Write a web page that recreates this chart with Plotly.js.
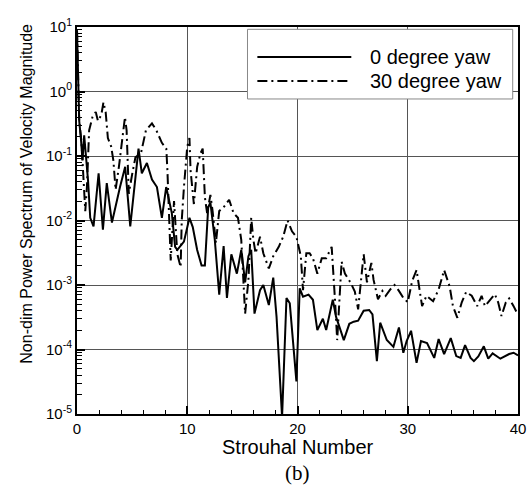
<!DOCTYPE html>
<html>
<head>
<meta charset="utf-8">
<script src="https://cdn.plot.ly/plotly-3.0.1.min.js"></script>
<style>html,body{margin:0;padding:0;background:#fff;}#chart{width:531px;height:491px;}</style>
</head>
<body>
<div id="chart"></div>
<script>
// Series names
var seriesNames = ['0 degree yaw', '30 degree yaw'];

// 0 degree yaw: Strouhal number and power spectrum
var st0 = [0, 0.1, 0.2, 0.35, 0.5, 0.65, 0.8, 1.0, 1.2, 1.5, 1.96, 2.35, 2.7, 3.17, 3.9, 4.37, 4.83, 5.58, 5.88, 6.34, 6.8, 7.25, 7.7, 8.09, 8.6, 8.9, 9.1, 9.7, 10.2, 10.5, 10.9, 11.3, 11.6, 11.9, 12.1, 12.5, 12.9, 13.3, 13.6, 14.0, 14.5, 14.9, 15.25, 15.55, 15.8, 16.1, 16.6, 16.9, 17.4, 17.8, 18.1, 18.6, 19.0, 19.3, 19.9, 20.2, 20.5, 21.0, 21.4, 21.8, 22.3, 22.6, 23.2, 23.5, 23.9, 24.2, 24.7, 25.1, 25.5, 26.0, 26.5, 26.8, 27.2, 27.5, 28.1, 28.7, 29.2, 29.6, 29.9, 30.3, 30.8, 31.2, 31.75, 32.4, 32.8, 33.3, 33.9, 34.4, 34.8, 35.2, 35.7, 36.0, 36.4, 36.9, 37.3, 37.7, 38.4, 38.9, 39.2, 39.6, 40.0];
var psd0 = [8.9, 1.6, 0.35, 0.19, 0.085, 0.21, 0.11, 0.042, 0.011, 0.0081, 0.054, 0.0072, 0.038, 0.0093, 0.033, 0.068, 0.0081, 0.13, 0.054, 0.078, 0.043, 0.033, 0.011, 0.033, 0.013, 0.0039, 0.0035, 0.0047, 0.011, 0.0079, 0.0035, 0.002, 0.002, 0.016, 0.019, 0.005, 7.1e-4, 0.004, 6.3e-4, 0.003, 0.0015, 0.0035, 0.0011, 0.0028, 0.0035, 3.6e-4, 8.3e-4, 1.0e-3, 4.9e-4, 0.0013, 3.2e-4, 9e-6, 6.3e-4, 5.2e-4, 3.2e-5, 8.9e-4, 6.6e-4, 7.1e-4, 5.9e-4, 2.0e-4, 3.0e-4, 2.0e-4, 5.9e-4, 3.2e-4, 2.0e-4, 1.4e-4, 2.5e-4, 2.7e-4, 2.8e-4, 4.0e-4, 4.1e-4, 3.5e-4, 6.6e-5, 2.6e-4, 1.4e-4, 1.1e-4, 2.2e-4, 8.9e-5, 1.35e-4, 1.95e-4, 6.2e-5, 1.35e-4, 1.26e-4, 7.4e-5, 1.45e-4, 8.5e-5, 1.5e-4, 7.9e-5, 7.4e-5, 1.17e-4, 7.4e-5, 6.6e-5, 7.8e-5, 1.12e-4, 7.2e-5, 8.7e-5, 7.2e-5, 8.1e-5, 8.5e-5, 8.9e-5, 8.1e-5];

// 30 degree yaw
var st30 = [0, 0.1, 0.2, 0.4, 0.6, 0.75, 0.9, 1.1, 1.4, 1.7, 1.9, 2.2, 2.4, 2.6, 2.8, 3.1, 3.3, 3.5, 3.8, 4.1, 4.35, 4.5, 4.7, 5.0, 5.3, 5.8, 6.25, 6.8, 7.2, 7.7, 8.1, 8.2, 8.4, 8.5, 8.8, 9.0, 9.1, 9.4, 9.5, 9.7, 10.0, 10.2, 10.3, 10.6, 10.9, 11.2, 11.4, 11.6, 11.8, 12.1, 12.3, 12.6, 12.9, 13.3, 13.8, 14.2, 14.6, 14.9, 15.25, 15.55, 15.8, 16.0, 16.2, 16.6, 16.9, 17.4, 17.8, 18.3, 18.7, 19.1, 19.5, 19.9, 20.3, 20.5, 20.8, 21.1, 21.4, 21.8, 22.2, 22.6, 23.1, 23.4, 23.6, 24.0, 24.3, 24.8, 25.2, 25.5, 25.9, 26.0, 26.3, 26.7, 26.9, 27.3, 27.7, 28.0, 28.4, 28.8, 29.2, 29.6, 30.0, 30.4, 30.8, 31.3, 31.7, 32.3, 32.8, 33.3, 33.8, 34.1, 34.5, 34.9, 35.3, 35.8, 36.3, 36.7, 37.0, 37.5, 37.9, 38.2, 38.5, 38.9, 39.2, 39.6, 39.9];
var psd30 = [8.9, 2.5, 0.35, 0.17, 0.042, 0.014, 0.033, 0.25, 0.4, 0.48, 0.35, 0.43, 0.68, 0.48, 0.19, 0.14, 0.085, 0.03, 0.068, 0.19, 0.4, 0.25, 0.026, 0.052, 0.095, 0.11, 0.25, 0.32, 0.25, 0.16, 0.13, 0.06, 0.0079, 0.0024, 0.02, 0.0055, 0.003, 0.0019, 0.01, 0.033, 0.14, 0.19, 0.06, 0.018, 0.068, 0.11, 0.13, 0.023, 0.013, 0.025, 0.014, 0.0045, 0.014, 0.016, 0.021, 0.013, 0.011, 0.005, 3.6e-4, 0.0012, 0.011, 0.005, 0.0031, 0.0056, 0.0031, 0.0018, 0.0028, 0.0039, 0.0056, 0.01, 0.0068, 0.0056, 0.0028, 8.3e-4, 0.0031, 0.0031, 0.0026, 0.0015, 0.0026, 0.0026, 0.0039, 5.9e-4, 1.4e-4, 0.0023, 0.0015, 0.0011, 7.9e-4, 4.2e-4, 0.0017, 0.003, 0.0011, 0.0022, 0.0012, 6.0e-4, 8.1e-4, 6.8e-4, 8.5e-4, 0.001, 8.1e-4, 6.3e-4, 5.4e-4, 0.00115, 0.0017, 4.7e-4, 6.8e-4, 5.6e-4, 8.5e-4, 0.0017, 9.5e-4, 4.7e-4, 3.1e-4, 5.4e-4, 7.8e-4, 6.8e-4, 4.7e-4, 6.8e-4, 4.7e-4, 6.0e-4, 7.2e-4, 5.4e-4, 3.3e-4, 5.4e-4, 6.2e-4, 4.7e-4, 3.7e-4];

// Axis ticks
var yTickVals = [1e-5, 1e-4, 1e-3, 1e-2, 1e-1, 1, 10];
var yTickText = ['10<sup>-5</sup>', '10<sup>-4</sup>', '10<sup>-3</sup>', '10<sup>-2</sup>', '10<sup>-1</sup>', '10<sup>0</sup>', '10<sup>1</sup>'];
var xTickVals = [0, 10, 20, 30, 40];
var xTickText = ['0', '10', '20', '30', '40'];

var xTitle = 'Strouhal Number';
var yTitle = 'Non-dim Power Spectrum of Velocity Magnitude';
var caption = '(b)';

var sans = 'Liberation Sans, Arial, sans-serif';
var dashDot = '10px,4px,2px,4px';

var traces = [
  {x: st0, y: psd0, type: 'scatter', mode: 'lines', name: seriesNames[0],
   line: {color: '#000', width: 2}, showlegend: false},
  {x: st30, y: psd30, type: 'scatter', mode: 'lines', name: seriesNames[1],
   line: {color: '#000', width: 2, dash: dashDot}, showlegend: false}
];

var layout = {
  width: 531, height: 491,
  margin: {l: 77, r: 13, t: 27, b: 77},
  paper_bgcolor: '#fff', plot_bgcolor: '#fff',
  font: {family: sans, color: '#000', size: 14},
  showlegend: false,
  xaxis: {
    range: [0, 40], tickmode: 'array', tickvals: xTickVals, ticktext: xTickText,
    ticks: 'inside', ticklen: 8, tickwidth: 2, tickcolor: '#000',
    minor: {dtick: 2, tick0: 0, ticks: 'inside', ticklen: 4, tickwidth: 1, tickcolor: '#000', showgrid: false},
    showgrid: true, gridcolor: '#555', gridwidth: 1, zeroline: false,
    showline: true, linecolor: '#000', linewidth: 2, mirror: true,
    tickfont: {family: sans, size: 15, color: '#000'}
  },
  yaxis: {
    type: 'log', range: [-5, 1], tickmode: 'array', tickvals: yTickVals, ticktext: yTickText,
    ticks: 'inside', ticklen: 8, tickwidth: 2, tickcolor: '#000',
    minor: {dtick: 'D1', ticks: 'inside', ticklen: 5, tickwidth: 1, tickcolor: '#000', showgrid: false},
    showgrid: true, gridcolor: '#555', gridwidth: 1, zeroline: false,
    showline: true, linecolor: '#000', linewidth: 2, mirror: true,
    tickfont: {family: sans, size: 15, color: '#000'}
  },
  shapes: [
    {type: 'rect', xref: 'paper', yref: 'paper', x0: 0.3866, x1: 0.988, y0: 0.814, y1: 0.994,
     line: {color: '#888', width: 1}, fillcolor: '#fff', layer: 'above'},
    {type: 'line', xref: 'paper', yref: 'paper', x0: 0.409, x1: 0.622, y0: 0.9225, y1: 0.9225,
     line: {color: '#000', width: 2}, layer: 'above'},
    {type: 'line', xref: 'paper', yref: 'paper', x0: 0.409, x1: 0.622, y0: 0.8605, y1: 0.8605,
     line: {color: '#000', width: 2, dash: dashDot}, layer: 'above'}
  ],
  annotations: [
    {xref: 'paper', yref: 'paper', x: 0.6605, y: 0.9225, xanchor: 'left', yanchor: 'middle',
     text: seriesNames[0], showarrow: false, font: {family: sans, size: 20, color: '#000'}},
    {xref: 'paper', yref: 'paper', x: 0.6605, y: 0.8605, xanchor: 'left', yanchor: 'middle',
     text: seriesNames[1], showarrow: false, font: {family: sans, size: 20, color: '#000'}},
    {xref: 'paper', yref: 'paper', x: 0.5, y: -0.085, xanchor: 'center', yanchor: 'middle',
     text: xTitle, showarrow: false, font: {family: sans, size: 20, color: '#000'}},
    {xref: 'paper', yref: 'paper', x: 0.5, y: -0.152, xanchor: 'center', yanchor: 'middle',
     text: caption, showarrow: false, font: {family: 'Liberation Serif, Times New Roman, serif', size: 21, color: '#000'}},
    {xref: 'paper', yref: 'paper', x: -0.115, y: 0.57, xanchor: 'center', yanchor: 'middle',
     text: yTitle, textangle: -90, showarrow: false, font: {family: sans, size: 16, color: '#000'}}
  ]
};

Plotly.newPlot('chart', traces, layout, {displayModeBar: false, staticPlot: true});
</script>
</body>
</html>
